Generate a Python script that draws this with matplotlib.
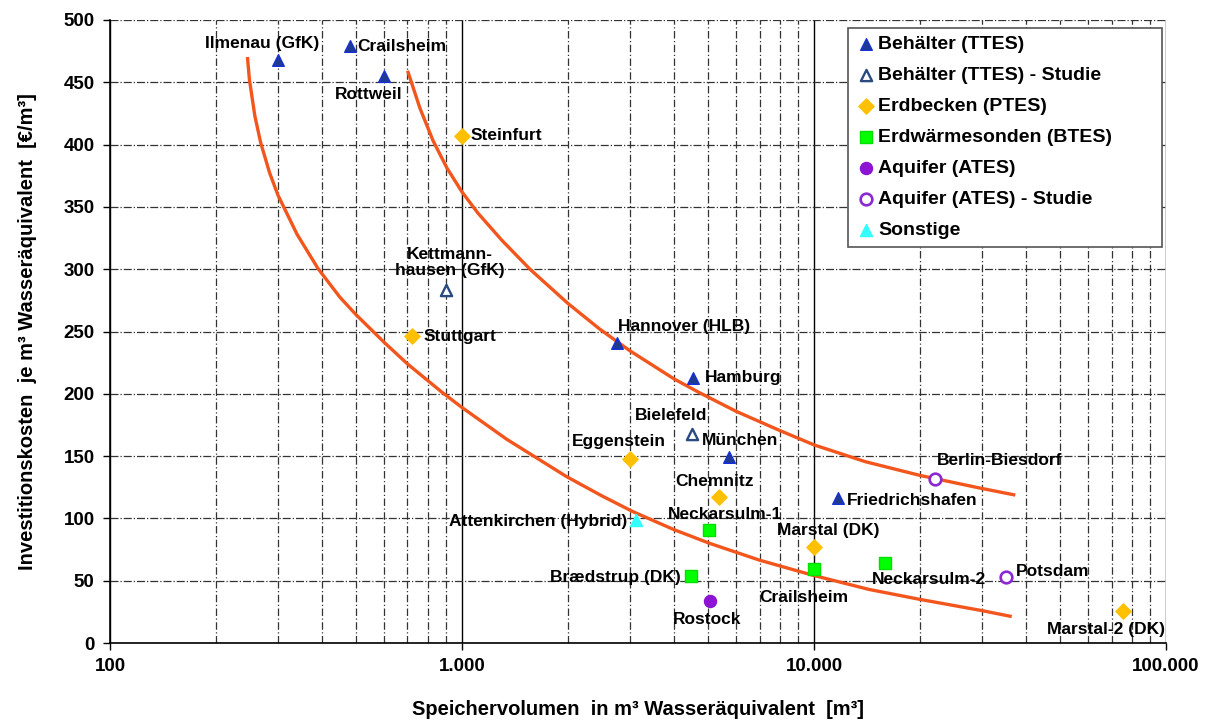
import matplotlib.pyplot as plt
from matplotlib.ticker import FixedLocator, FuncFormatter, LogLocator, NullFormatter

plt.rcParams['font.family'] = ['Liberation Sans', 'DejaVu Sans']
plt.rcParams['font.weight'] = 'bold'

# Behälter (TTES)
ttes_names = ['Ilmenau (GfK)', 'Crailsheim', 'Rottweil', 'Hannover (HLB)', 'Hamburg', 'München', 'Friedrichshafen']
ttes_vol = [300, 480, 600, 2750, 4530, 5730, 11700]
ttes_cost = [468, 479, 455, 241, 213, 149, 116]

# Behälter (TTES) - Studie
ttes_s_names = ['Kettmann-\nhausen (GfK)', 'Bielefeld']
ttes_s_vol = [900, 4500]
ttes_s_cost = [283, 168]

# Erdbecken (PTES)
ptes_names = ['Steinfurt', 'Stuttgart', 'Eggenstein', 'Chemnitz', 'Marstal (DK)', 'Marstal-2 (DK)']
ptes_vol = [1000, 720, 3000, 5370, 10000, 75500]
ptes_cost = [407, 246, 148, 117, 77, 26]

# Erdwärmesonden (BTES)
btes_names = ['Neckarsulm-1', 'Brædstrup (DK)', 'Crailsheim', 'Neckarsulm-2']
btes_vol = [5030, 4480, 10000, 15900]
btes_cost = [91, 54, 59, 64]

# Aquifer (ATES)
ates_names = ['Rostock']
ates_vol = [5070]
ates_cost = [34]

# Aquifer (ATES) - Studie
ates_s_names = ['Berlin-Biesdorf', 'Potsdam']
ates_s_vol = [22100, 35100]
ates_s_cost = [132, 53]

# Sonstige
other_names = ['Attenkirchen (Hybrid)']
other_vol = [3120]
other_cost = [99]

# Trendkurven
lower_vol = [246, 249, 258, 268, 284, 300, 340, 390, 450, 500, 600, 700, 875, 1000, 1340,
             1983, 2500, 3055, 4000, 5050, 7000, 9890, 14330, 20000, 30000, 36050]
lower_cost = [469, 452, 423, 401.5, 377.5, 359.5, 328, 300.5, 277.5, 263.5, 241.5, 224, 201.5, 189, 163.5,
              133.5, 118, 105.5, 91, 80, 66.5, 54.5, 43, 35, 26, 21.5]
upper_vol = [703, 760, 828, 907, 1000, 1110, 1300, 1560, 2000, 2460, 3000, 4000, 4720,
             6000, 8000, 10000, 14000, 20000, 30000, 36900]
upper_cost = [458, 429, 403, 381, 362, 345, 323, 300, 272.5, 252, 234.5, 212, 201,
              186, 170.5, 159, 145.5, 134.5, 124, 119]

# Beschriftungs-Versatz in Pixeln: (dx, dy, ha)
label_pos = {
    'Ilmenau (GfK)': (-16, 16, 'center'),
    'Crailsheim': (7, 0, 'left'),
    'Rottweil': (-15, -18, 'center'),
    'Hannover (HLB)': (1, 16, 'left'),
    'Hamburg': (12, 0, 'left'),
    'München': (11, 17, 'center'),
    'Friedrichshafen': (9, -2, 'left'),
    'Kettmann-\nhausen (GfK)': (4, 28, 'center'),
    'Bielefeld': (-21, 18, 'center'),
    'Steinfurt': (9, 0, 'left'),
    'Stuttgart': (12, 0, 'left'),
    'Eggenstein': (-11, 17, 'center'),
    'Chemnitz': (-4, 16, 'center'),
    'Marstal (DK)': (14, 17, 'center'),
    'Marstal-2 (DK)': (-17, -19, 'center'),
    'Neckarsulm-1': (16, 15, 'center'),
    'Brædstrup (DK)': (-11, -2, 'right'),
    'Crailsheim_b': (-10, -28, 'center'),
    'Neckarsulm-2': (44, -16, 'center'),
    'Rostock': (-3, -19, 'center'),
    'Berlin-Biesdorf': (2, 18, 'left'),
    'Potsdam': (10, 5, 'left'),
    'Attenkirchen (Hybrid)': (-9, -2, 'right'),
}

fig = plt.figure(figsize=(12.11, 7.22), dpi=100)
ax = fig.add_axes([0.0908, 0.1094, 0.8721, 0.8629])

curve_col = '#F2561D'
ax.plot(lower_vol, lower_cost, color=curve_col, lw=2.4, zorder=3, solid_joinstyle='round')
ax.plot(upper_vol, upper_cost, color=curve_col, lw=2.4, zorder=3, solid_joinstyle='round')

ax.scatter(ttes_vol, ttes_cost, marker='^', s=70, c='#1F3A8F', edgecolors='#1530D8', linewidths=1, zorder=4, label='Behälter (TTES)')
ax.scatter(ttes_s_vol, ttes_s_cost, marker='^', s=65, facecolors='white', edgecolors='#2A4A80', linewidths=1.7, zorder=4, label='Behälter (TTES) - Studie')
ax.scatter(ptes_vol, ptes_cost, marker='D', s=60, c='#FFC000', edgecolors='#FFC000', zorder=4, label='Erdbecken (PTES)')
ax.scatter(btes_vol, btes_cost, marker='s', s=75, c='#00FF00', edgecolors='#00E000', zorder=4, label='Erdwärmesonden (BTES)')
ax.scatter(ates_vol, ates_cost, marker='o', s=75, c='#8C14D2', edgecolors='#8C14D2', zorder=4, label='Aquifer (ATES)')
ax.scatter(ates_s_vol, ates_s_cost, marker='o', s=70, facecolors='white', edgecolors='#8C28D2', linewidths=1.9, zorder=4, label='Aquifer (ATES) - Studie')
ax.scatter(other_vol, other_cost, marker='^', s=75, c='#33FFFF', edgecolors='#33FFFF', zorder=4, label='Sonstige')

groups = [
    (ttes_names, ttes_vol, ttes_cost, ''),
    (ttes_s_names, ttes_s_vol, ttes_s_cost, ''),
    (ptes_names, ptes_vol, ptes_cost, ''),
    (btes_names, btes_vol, btes_cost, '_b'),
    (ates_names, ates_vol, ates_cost, ''),
    (ates_s_names, ates_s_vol, ates_s_cost, ''),
    (other_names, other_vol, other_cost, ''),
]
for names, xs, ys, suffix in groups:
    for n, xv, yv in zip(names, xs, ys):
        key = n + suffix if (n + suffix) in label_pos else n
        dx, dy, ha = label_pos[key]
        ax.annotate(n, (xv, yv), xytext=(dx, dy), textcoords='offset pixels',
                    ha=ha, va='center', fontsize=12.5, fontweight='bold',
                    linespacing=1.1, zorder=5)

ax.set_xscale('log')
ax.set_xlim(100, 100000)
ax.set_ylim(0, 500)
ax.xaxis.set_major_locator(FixedLocator([100, 1000, 10000, 100000]))
ax.xaxis.set_major_formatter(FuncFormatter(lambda v, p: f'{int(v):,}'.replace(',', '.')))
ax.xaxis.set_minor_locator(LogLocator(base=10, subs=range(2, 10)))
ax.xaxis.set_minor_formatter(NullFormatter())
ax.set_yticks(range(0, 501, 50))

ax.grid(True, which='major', axis='y', color='#333333', linestyle='-.', lw=0.9)
ax.grid(True, which='major', axis='x', color='black', linestyle='-', lw=1.0)
ax.grid(True, which='minor', axis='x', color='#333333', linestyle=(0, (6, 2, 1, 2)), lw=0.9)

for s in ['top', 'right']:
    ax.spines[s].set_visible(False)
ax.spines['left'].set_linewidth(1.2)
ax.spines['bottom'].set_linewidth(1.2)
ax.tick_params(axis='both', which='major', direction='out', length=5, labelsize=13.5, width=1)
ax.tick_params(axis='x', which='minor', length=0)
ax.tick_params(axis='x', pad=6)
ax.tick_params(axis='y', pad=6)
for lab in ax.get_xticklabels() + ax.get_yticklabels():
    lab.set_fontweight('bold')

ax.set_xlabel('Speichervolumen  in m³ Wasseräquivalent  [m³]', fontsize=14.5, fontweight='bold', labelpad=18)
ax.set_ylabel('Investitionskosten  je m³ Wasseräquivalent  [€/m³]', fontsize=14.5, fontweight='bold', labelpad=19)

leg = ax.legend(loc='upper left', bbox_to_anchor=(0.6989, 0.5, 0.2973, 0.4873), mode='expand',
                borderaxespad=0, fontsize=14, frameon=True, fancybox=False, edgecolor='#555555',
                framealpha=1, handletextpad=0.15, handlelength=1.0, labelspacing=0.69,
                borderpad=0.4, scatterpoints=1)
leg.get_frame().set_linewidth(1.2)
for t in leg.get_texts():
    t.set_fontweight('bold')

plt.savefig('out.png', dpi=100)
